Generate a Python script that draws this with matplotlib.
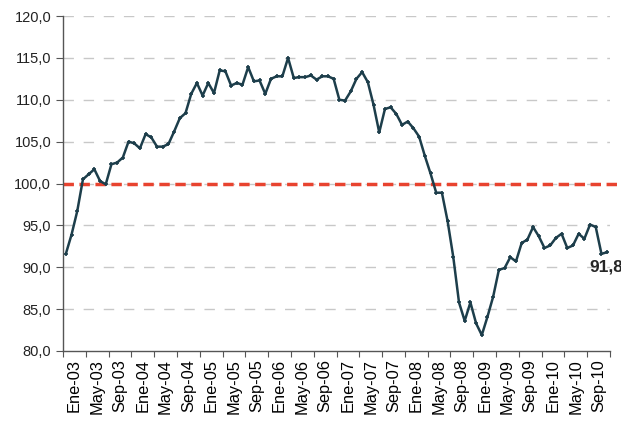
import numpy as np
import matplotlib.pyplot as plt
from matplotlib.ticker import FixedLocator, NullFormatter

plt.rcParams['font.family'] = ['Liberation Sans', 'DejaVu Sans']

# monthly index, Ene-03 .. Dic-10
values = [
    91.6, 93.9, 96.7, 100.5, 101.1, 101.7, 100.3, 99.9, 102.3, 102.5, 103.1, 105.0,
    104.8, 104.2, 105.9, 105.5, 104.4, 104.4, 104.7, 106.2, 107.8, 108.4, 110.7, 112.0,
    110.5, 112.0, 110.8, 113.5, 113.4, 111.7, 112.0, 111.8, 113.9, 112.2, 112.3, 110.7,
    112.5, 112.8, 112.8, 115.0, 112.6, 112.7, 112.7, 112.9, 112.4, 112.8, 112.8, 112.5,
    110.0, 109.9, 111.0, 112.5, 113.3, 112.1, 109.4, 106.1, 108.9, 109.1, 108.3, 107.0,
    107.4, 106.6, 105.6, 103.3, 101.2, 98.9, 98.9, 95.5, 91.2, 85.8, 83.6, 85.8,
    83.3, 81.9, 84.1, 86.5, 89.7, 89.9, 91.2, 90.7, 92.9, 93.3, 94.8, 93.7,
    92.3, 92.6, 93.5, 94.0, 92.3, 92.6, 94.0, 93.4, 95.1, 94.8, 91.6, 91.8,
]
tick_labels = ['Ene-03', 'May-03', 'Sep-03', 'Ene-04', 'May-04', 'Sep-04',
               'Ene-05', 'May-05', 'Sep-05', 'Ene-06', 'May-06', 'Sep-06',
               'Ene-07', 'May-07', 'Sep-07', 'Ene-08', 'May-08', 'Sep-08',
               'Ene-09', 'May-09', 'Sep-09', 'Ene-10', 'May-10', 'Sep-10']
reference = 100.0
last_label = '91,8'

x = np.arange(len(values))

fig = plt.figure(figsize=(6.21, 4.22), dpi=100)
ax = fig.add_axes([63 / 621, 71 / 422, 547 / 621, 335 / 422])

for yv in np.arange(85, 121, 5):
    ax.axhline(yv, color='#c8c8c8', lw=1, ls=(0, (7.5, 7)), zorder=1)

ax.plot([-0.5, 96.8], [reference, reference], color='#e8432f', lw=2.5,
        ls=(0, (3, 1.6)), zorder=2, clip_on=False)

ax.plot(x, values, color='#1d3e4b', lw=1.8, marker='+', ms=3.5, mew=1.2, zorder=3)

ax.annotate(last_label, (x[-1], values[-1]), xytext=(-13, -11),
            textcoords='offset points', ha='left', va='center',
            fontsize=12.5, fontweight='bold', color='#262626',
            annotation_clip=False)

ax.set_xlim(-0.5, 95.5)
ax.set_ylim(80, 120)
ax.set_yticks(np.arange(80, 121, 5))
ax.set_yticklabels([f'{v:.1f}'.replace('.', ',') for v in np.arange(80, 121, 5)])

# tick marks between groups of 4 months, labels in the middle
ax.xaxis.set_major_locator(FixedLocator(np.arange(-0.5, 96, 4)))
ax.xaxis.set_major_formatter(NullFormatter())
ax.xaxis.set_minor_locator(FixedLocator(np.arange(1.5, 96, 4)))
ax.set_xticklabels(tick_labels, minor=True, rotation=90)
ax.tick_params(axis='x', which='minor', length=0, pad=6, labelsize=11.8)
ax.tick_params(axis='x', which='major', length=4, direction='out', color='#555555')
ax.tick_params(axis='y', length=5, direction='out', color='#555555', labelsize=10.5)
ax.tick_params(labelcolor='#222222')

for s in ['top', 'right']:
    ax.spines[s].set_visible(False)
for s in ['left', 'bottom']:
    ax.spines[s].set_color('#555555')
    ax.spines[s].set_linewidth(1)

fig.savefig('out.png', dpi=100)
